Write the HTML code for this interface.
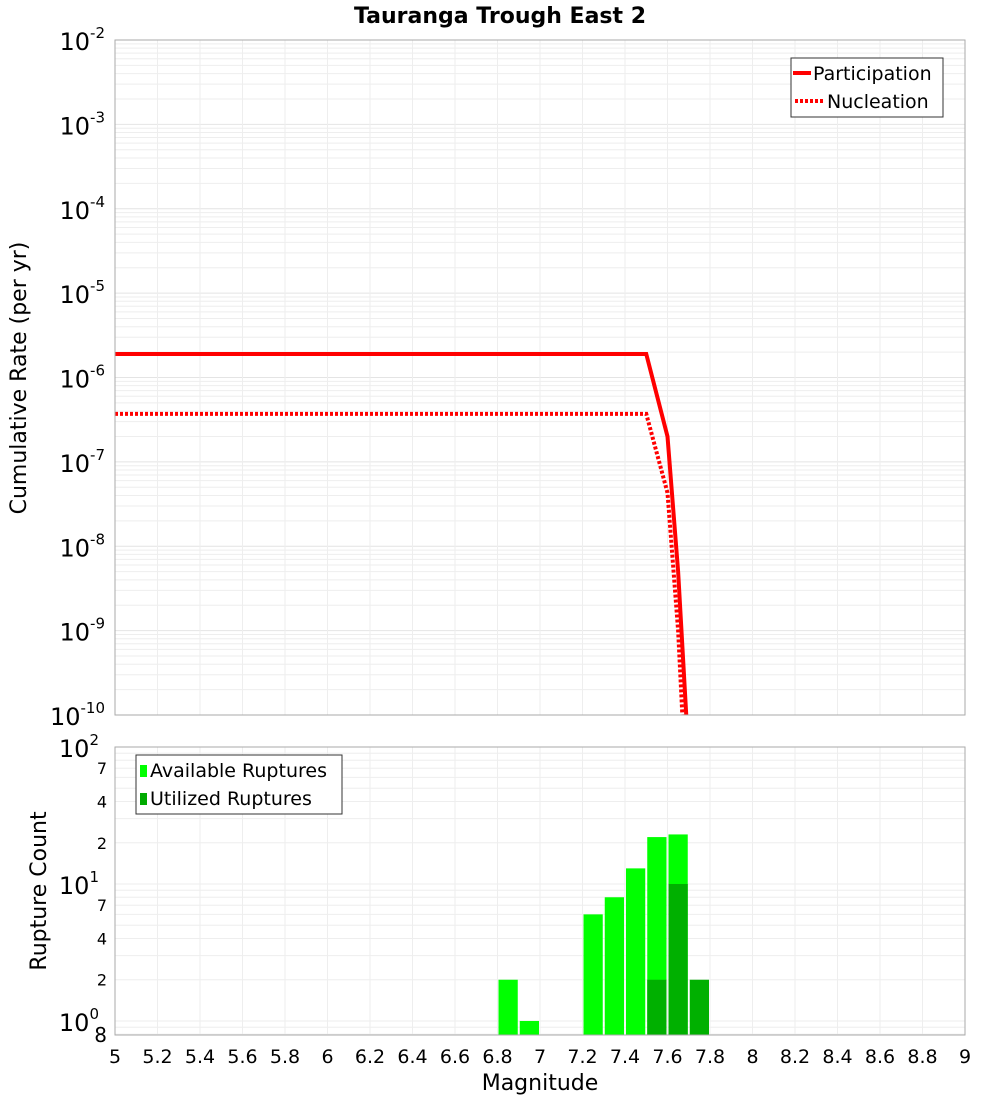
<!DOCTYPE html>
<html><head><meta charset="utf-8"><style>
body{margin:0;background:#fff;}
svg{display:block;font-family:"DejaVu Sans","Liberation Sans",sans-serif;}
</style></head><body>
<svg id="chart" width="1000" height="1100" viewBox="0 0 1000 1100">
<defs><clipPath id="cp"><rect x="115" y="40" width="850" height="675"/></clipPath></defs>
<g id="topG"></g>
<g id="botG"></g>
<text x="500" y="23" text-anchor="middle" font-size="22" font-weight="bold">Tauranga Trough East 2</text>
<text transform="translate(26,378) rotate(-90)" text-anchor="middle" font-size="22">Cumulative Rate (per yr)</text>
<text transform="translate(46,891) rotate(-90)" text-anchor="middle" font-size="22">Rupture Count</text>
<text x="540" y="1090" text-anchor="middle" font-size="22">Magnitude</text>
<g>
<rect x="791" y="58" width="152" height="59" fill="#fff" stroke="#333"/>
<line x1="793" y1="73" x2="811" y2="73" stroke="red" stroke-width="4"/>
<text x="813" y="80" font-size="19">Participation</text>
<line x1="795" y1="101" x2="823" y2="101" stroke="red" stroke-width="4" stroke-dasharray="3,2"/>
<text x="827" y="108" font-size="19">Nucleation</text>
</g>
<g>
<rect x="136" y="755" width="206" height="59" fill="#fff" stroke="#333"/>
<rect x="140" y="765" width="7" height="12" fill="#00ff00"/>
<text x="150" y="777" font-size="19">Available Ruptures</text>
<rect x="140" y="793" width="7" height="12" fill="#00aa00"/>
<text x="150" y="805" font-size="19">Utilized Ruptures</text>
</g>
</svg>
<script>
const partMag=[5.0,7.5,7.6,7.65,7.7];
const partRate=[1.9e-6,1.9e-6,2e-7,5e-9,3e-11];
const nuclMag=[5.0,7.5,7.6,7.65,7.7];
const nuclRate=[3.7e-7,3.7e-7,4.3e-8,1e-9,3e-12];
const binMag=[6.85,6.95,7.25,7.35,7.45,7.55,7.65,7.75];
const availCount=[2,1,6,8,13,22,23,0];
const usedCount=[0,0,0,0,0,2,10,2];
const xTicks=[5,5.2,5.4,5.6,5.8,6,6.2,6.4,6.6,6.8,7,7.2,7.4,7.6,7.8,8,8.2,8.4,8.6,8.8,9];

const NS="http://www.w3.org/2000/svg";
function mk(p,t,a){const e=document.createElementNS(NS,t);for(const k in a)e.setAttribute(k,a[k]);p.appendChild(e);return e;}
const X0=115,X1=965;
const xs=m=>X0+(m-5)/4*(X1-X0);
const T0=40,T1=715;
const yT=v=>T0+(-2-Math.log10(v))/8*(T1-T0);
const B0=747,B1=1035,Bmin=Math.log10(0.79);
const yB=v=>B0+(2-Math.log10(v))/(2-Bmin)*(B1-B0);
const topG=document.getElementById('topG'),botG=document.getElementById('botG');
for(let e=-10;e<-2;e++)for(let k=1;k<10;k++){const y=yT(k*Math.pow(10,e));const g=mk(topG,'line',{x1:X0,x2:X1,y1:y,y2:y,stroke:k==1?'#e4e4e4':'#eeeeee','stroke-width':1});

}
for(let d=-10;d<=-2;d++){const y=yT(Math.pow(10,d));const t=mk(topG,'text',{x:105,y:y+10,'text-anchor':'end','font-size':24});


t.innerHTML='10<tspan dy="-12" font-size="15">'+d+'</tspan>';}
for(let e=-1;e<2;e++)for(let k=1;k<10;k++){const v=k*Math.pow(10,e);if(v<0.79)continue;const y=yB(v);const g=mk(botG,'line',{x1:X0,x2:X1,y1:y,y2:y,stroke:'#eeeeee','stroke-width':1});

}
xTicks.forEach(m=>{const x=xs(m);
let g=mk(topG,'line',{x1:x,x2:x,y1:T0,y2:T1,stroke:'#eeeeee'});


g=mk(botG,'line',{x1:x,x2:x,y1:B0,y2:B1,stroke:'#eeeeee'});


const t=mk(botG,'text',{x:x,y:1063,'text-anchor':'middle','font-size':19});


t.textContent=String(m);});
[[100,'2'],[10,'1'],[1,'0']].forEach(([v,s])=>{const y=yB(v);const t=mk(botG,'text',{x:99,y:y+10,'text-anchor':'end','font-size':24});


t.innerHTML='10<tspan dy="-12" font-size="15">'+s+'</tspan>';});
[70,40,20,7,4,2].forEach(v=>{const t=mk(botG,'text',{x:107,y:yB(v)+6,'text-anchor':'end','font-size':16});


t.textContent=String(v).charAt(0);});
{const t=mk(botG,'text',{x:107,y:1042,'text-anchor':'end','font-size':20});


t.textContent='8';}
const bw=(X1-X0)/40;
binMag.forEach((m,i)=>{
 if(availCount[i]>0){const r=mk(botG,'rect',{x:xs(m)-bw/2+1,y:yB(availCount[i]),width:bw-2,height:B1-yB(availCount[i]),fill:'#00ff00'});
 
 }
 if(usedCount[i]>0){const r=mk(botG,'rect',{x:xs(m)-bw/2+1,y:yB(usedCount[i]),width:bw-2,height:B1-yB(usedCount[i]),fill:'#00b000'});
 
 }
});
const pl=mk(topG,'polyline',{points:partMag.map((m,i)=>xs(m)+','+yT(partRate[i])).join(' '),fill:'none',stroke:'red','stroke-width':4,'clip-path':'url(#cp)'});


const nl=mk(topG,'polyline',{points:nuclMag.map((m,i)=>xs(m)+','+yT(nuclRate[i])).join(' '),fill:'none',stroke:'red','stroke-width':4,'stroke-dasharray':'3,2','clip-path':'url(#cp)'});


let f=mk(topG,'rect',{x:X0,y:T0,width:X1-X0,height:T1-T0,fill:'none',stroke:'#aaa'});


f=mk(botG,'rect',{x:X0,y:B0,width:X1-X0,height:B1-B0,fill:'none',stroke:'#aaa'});


</script>
</body></html>
